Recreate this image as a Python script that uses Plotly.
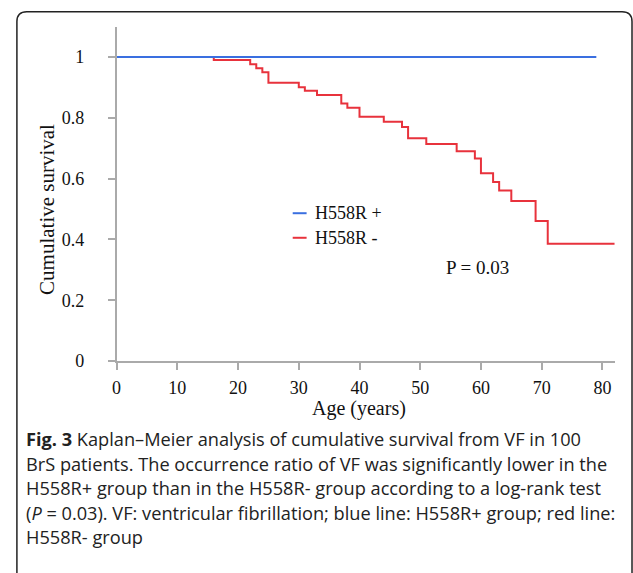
import plotly.graph_objects as go

# Data
red_t = [0, 16, 22, 23, 24, 25, 30, 31, 33, 37, 38, 40, 44, 47, 48, 51, 56, 59, 60, 62, 63, 65, 69, 71, 82]
red_s = [1, 0.99, 0.976, 0.963, 0.95, 0.915, 0.90, 0.889, 0.875, 0.847, 0.833, 0.803, 0.787, 0.770,
         0.733, 0.714, 0.690, 0.666, 0.618, 0.589, 0.561, 0.526, 0.461, 0.386, 0.386]
blue_t = [0, 79]
blue_s = [1, 1]
series_names = ["H558R +", "H558R -"]
series_colors = ["#3a6fe0", "#e8323c"]
x_ticks = [0, 10, 20, 30, 40, 50, 60, 70, 80]
y_ticks = [0, 0.2, 0.4, 0.6, 0.8, 1]
y_ticklabels = ["0", "0.2", "0.4", "0.6", "0.8", "1"]

W, H = 633, 573
SERIF = "Liberation Serif, Times New Roman, serif"
SANS = "Open Sans, Noto Sans, sans-serif"
TXT = "#111"

def px(x):
    return x / W

def py(y):
    return 1 - y / H

fig = go.Figure()
fig.add_trace(go.Scatter(x=red_t, y=red_s, mode="lines", line=dict(color=series_colors[1], width=2, shape="hv"),
                         name=series_names[1], showlegend=False))
fig.add_trace(go.Scatter(x=blue_t, y=blue_s, mode="lines", line=dict(color=series_colors[0], width=2),
                         name=series_names[0], showlegend=False))

axis_common = dict(showgrid=False, zeroline=False, showline=True, linecolor="#aaaaaa", linewidth=1.5,
                   ticks="outside", ticklen=7, tickcolor="#aaaaaa", tickwidth=1.5,
                   tickfont=dict(family=SERIF, size=18, color=TXT))

fig.update_layout(
    width=W, height=H,
    margin=dict(l=0, r=0, t=0, b=0),
    paper_bgcolor="white", plot_bgcolor="white",
    xaxis=dict(range=[0, 82.1], domain=[px(112.5), px(615)], tickvals=x_ticks, ticklabelstandoff=3,
               **axis_common),
    yaxis=dict(range=[0, 1.1], domain=[py(367.5), py(27)], tickvals=y_ticks, ticktext=y_ticklabels,
               ticklabelstandoff=20, **axis_common),
    showlegend=False,
)

# rounded frame around figure + caption
r = 10
x0, y0, x1, y1 = 12, 12, 632, 590
path = (f"M {px(x0)},{py(y1)} L {px(x0)},{py(y0 + r)} "
        f"Q {px(x0)},{py(y0)} {px(x0 + r)},{py(y0)} "
        f"L {px(x1 - r)},{py(y0)} Q {px(x1)},{py(y0)} {px(x1)},{py(y0 + r)} L {px(x1)},{py(y1)}")
fig.add_shape(type="path", path=path, xref="paper", yref="paper", line=dict(color="#222", width=1.5))

# legend (short line keys as in the reference)
for i, (nm, col) in enumerate(zip(series_names, series_colors)):
    yy = 217 + 25 * i
    fig.add_shape(type="line", x0=px(290), x1=px(304), y0=py(yy), y1=py(yy), xref="paper", yref="paper",
                  line=dict(color=col, width=2))
    fig.add_annotation(text=nm, x=px(310), y=py(yy), xref="paper", yref="paper", xanchor="left",
                       yanchor="middle", showarrow=False, font=dict(family=SERIF, size=18, color=TXT))

annotations = [
    dict(text="Cumulative survival", x=px(43), y=py(213), textangle=-90,
         font=dict(family=SERIF, size=21, color=TXT)),
    dict(text="Age (years)", x=px(357), y=py(416), font=dict(family=SERIF, size=20, color=TXT)),
]
for a in annotations:
    a.update(xref="paper", yref="paper", showarrow=False, xanchor="center", yanchor="middle")
    fig.add_annotation(**a)

fig.add_annotation(text="P = 0.03", x=px(442), y=py(272), xref="paper", yref="paper", xanchor="left",
                   yanchor="middle", showarrow=False, font=dict(family=SERIF, size=19, color=TXT))

caption_lines = [
    "<b>Fig. 3</b> Kaplan–Meier analysis of cumulative survival from VF in 100",
    "BrS patients. The occurrence ratio of VF was significantly lower in the",
    "H558R+ group than in the H558R- group according to a log-rank test",
    "(<i>P</i> = 0.03). VF: ventricular fibrillation; blue line: H558R+ group; red line:",
    "H558R- group",
]
for i, line in enumerate(caption_lines):
    fig.add_annotation(text=line, x=px(19), y=py(447 + 25 * i), xref="paper", yref="paper",
                       xanchor="left", yanchor="middle", showarrow=False,
                       font=dict(family=SANS, size=18.2, color="#222"))

fig.write_html("out.html")
